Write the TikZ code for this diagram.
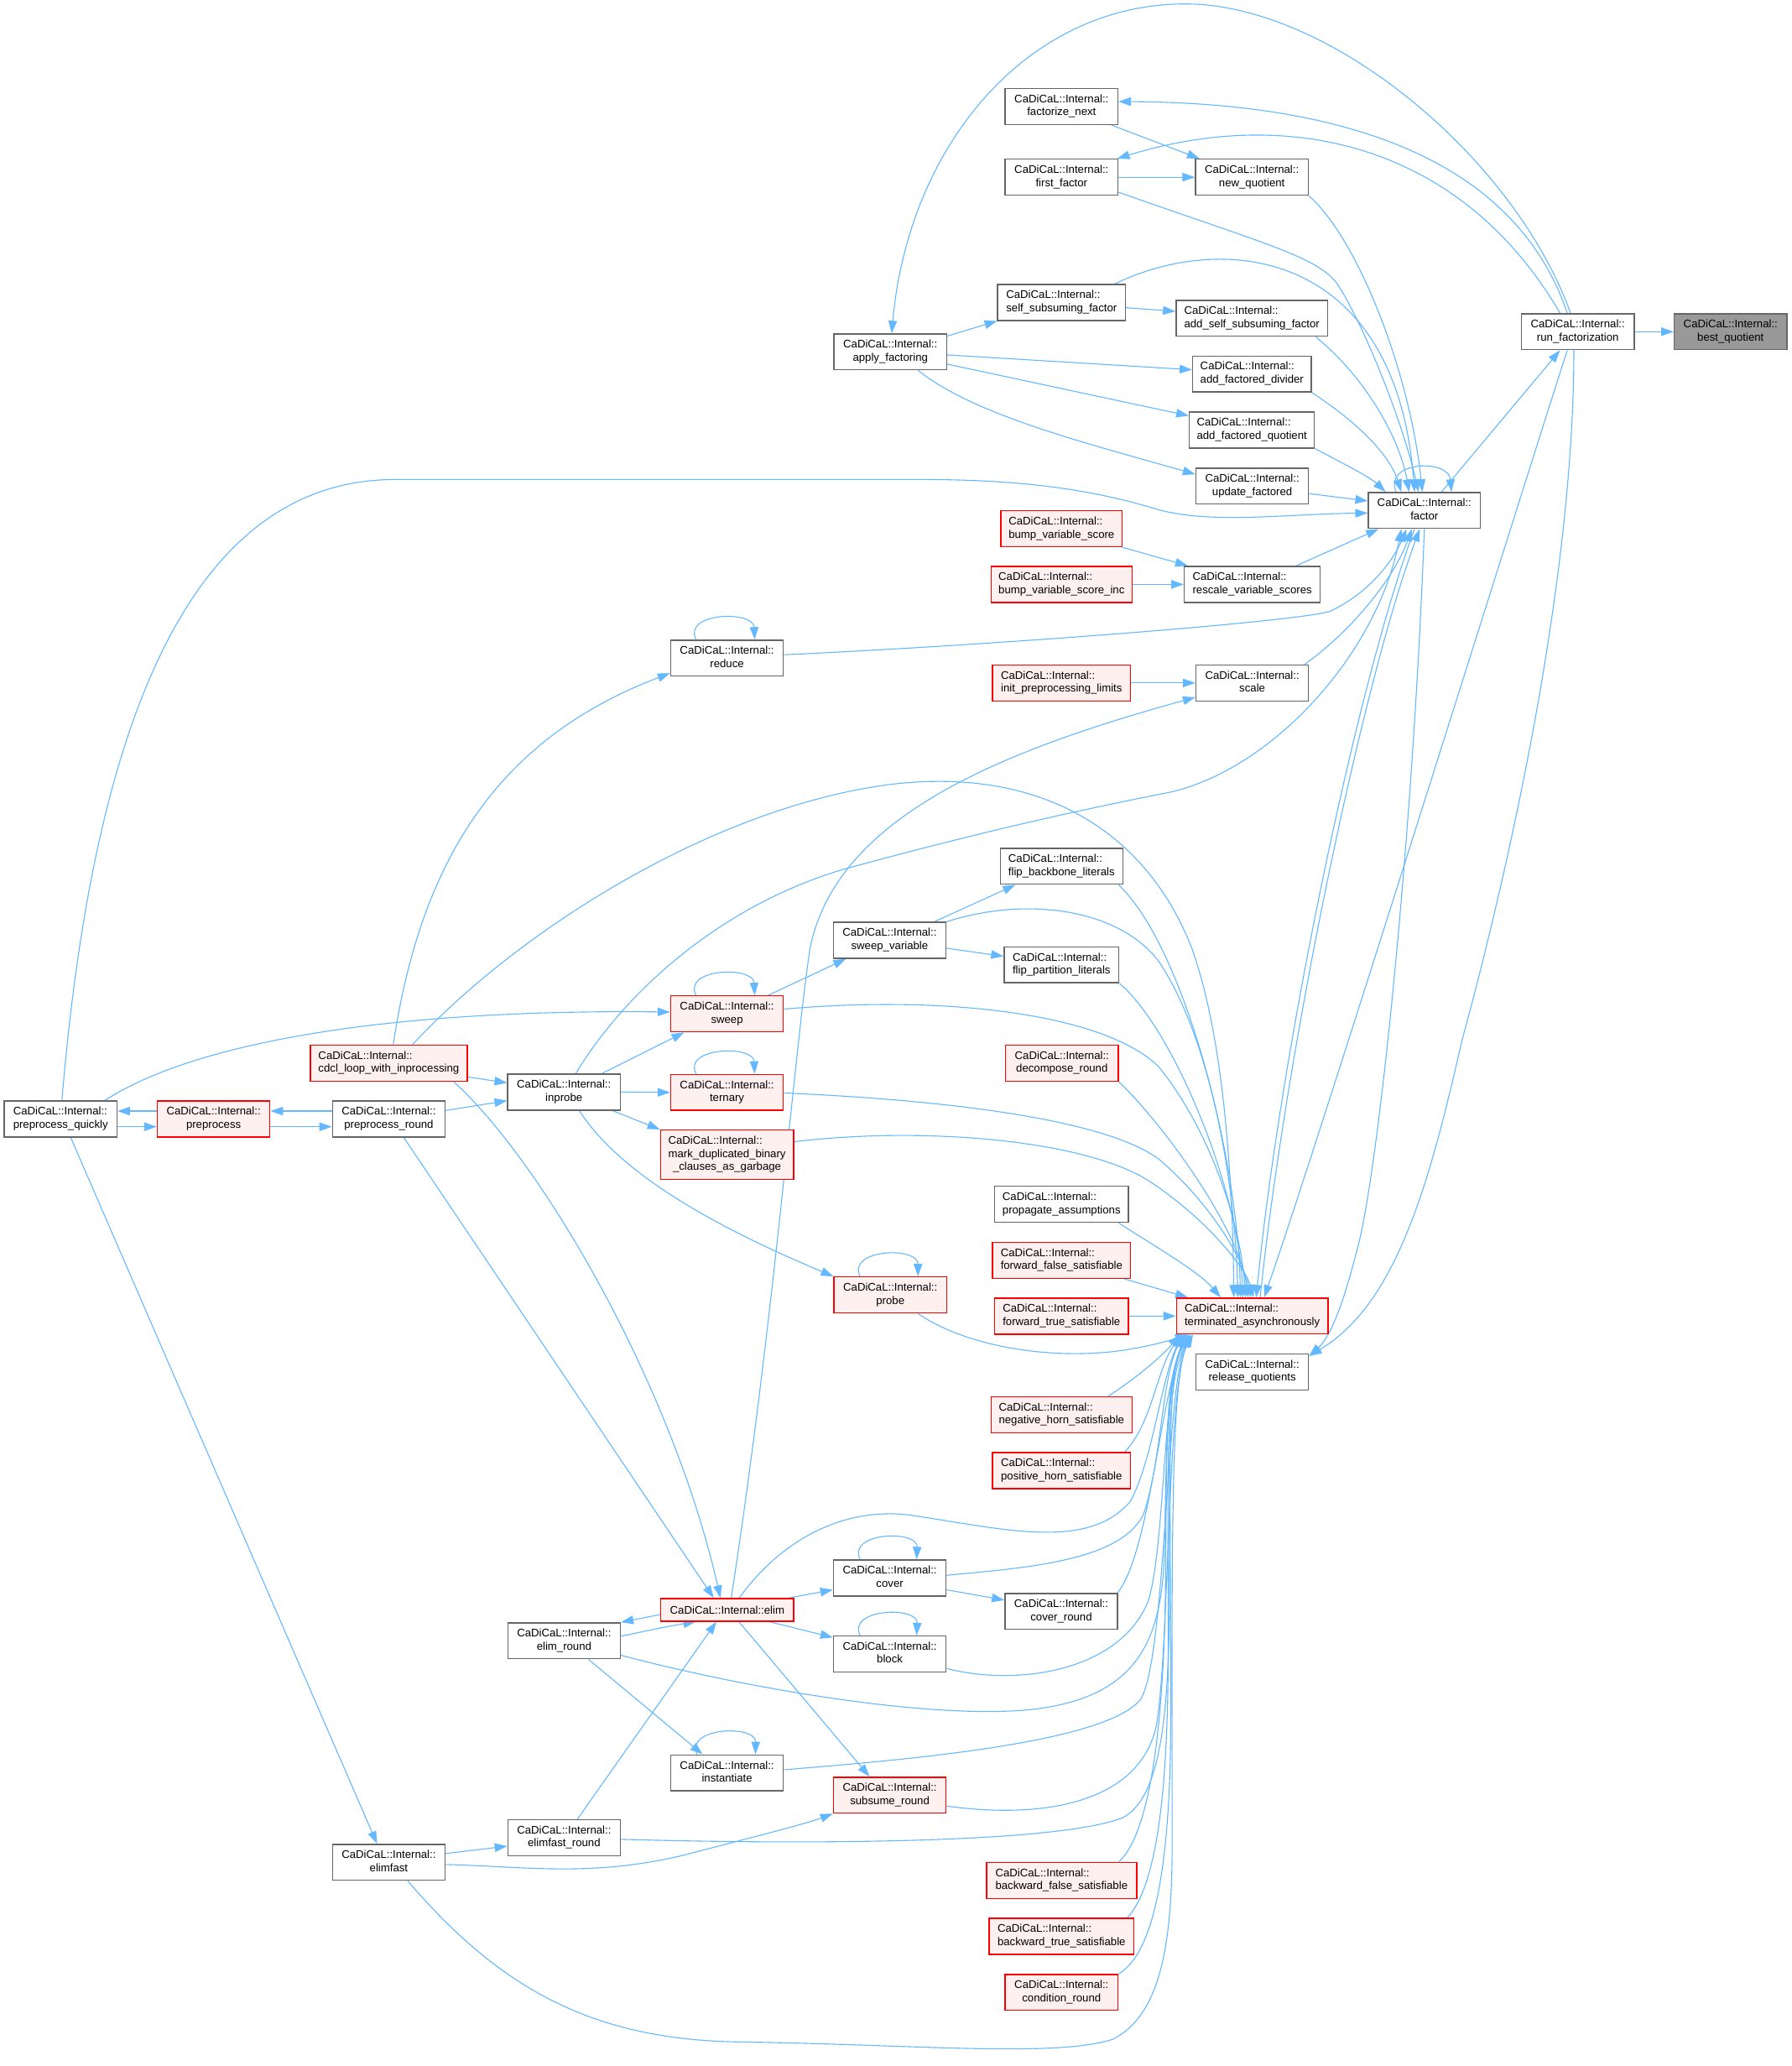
\documentclass[tikz,border=0pt]{standalone}
\usepackage{fontspec}
\setmainfont{Liberation Sans}
\usetikzlibrary{arrows.meta}
\definecolor{edgeblue}{HTML}{63B8FF}
\definecolor{bordergray}{HTML}{666666}
\definecolor{redfill}{HTML}{FFF0F0}
\definecolor{graybg}{HTML}{999999}
\newcommand{\NL}[1]{\begin{tabular}{@{}c@{}}\multicolumn{1}{@{}l@{}}{CaDiCaL::Internal::}\\#1\end{tabular}}
\pgfdeclarelayer{bg}
\pgfsetlayers{bg,main}
\tikzset{
  nbox/.style={draw=bordergray, fill=white, line width=0.9pt, inner sep=0pt, minimum width=85.5pt, minimum height=27.3pt, font=\fontsize{8.4}{10}\selectfont},
  rbox/.style={nbox, draw=red, fill=redfill},
  gbox/.style={nbox, fill=graybg},
  cedge/.style={draw=edgeblue, line width=0.7pt, -{Triangle[length=9.5pt,width=6.5pt]}}
}
\begin{document}
\begin{tikzpicture}[x=1pt,y=-1pt]
\path[use as bounding box] (0,0) rectangle (1360,1568.3);
% nodes
\node[gbox] (bq) at (1314,251.8) {\NL{best\_quotient}};
\node[nbox] (rf) at (1198,251.8) {\NL{run\_factorization}};
\node[nbox] (fn) at (806,80.9) {\NL{factorize\_next}};
\node[nbox] (ff) at (806,134.5) {\NL{first\_factor}};
\node[nbox] (nq) at (950.5,134.5) {\NL{new\_quotient}};
\node[nbox, minimum width=97pt] (ssf) at (806,229.6) {\NL{self\_subsuming\_factor}};
\node[nbox] (af) at (676,267.1) {\NL{apply\_factoring}};
\node[nbox, minimum width=115pt] (assf) at (950.5,241.6) {\NL{add\_self\_subsuming\_factor}};
\node[nbox, minimum width=90pt] (afd) at (950.6,283.9) {\NL{add\_factored\_divider}};
\node[nbox, minimum width=95pt] (afq) at (950.5,326.4) {\NL{add\_factored\_quotient}};
\node[nbox] (uf) at (950.8,369) {\NL{update\_factored}};
\node[nbox, minimum width=85pt] (fa) at (1081.5,387.5) {\NL{factor}};
\node[rbox, minimum width=92pt] (bvs) at (806,401.4) {\NL{bump\_variable\_score}};
\node[rbox, minimum width=107pt] (bvsi) at (806,443.6) {\NL{bump\_variable\_score\_inc}};
\node[nbox, minimum width=103pt] (rvs) at (950.8,443.6) {\NL{rescale\_variable\_scores}};
\node[nbox] (re) at (552,499.6) {\NL{reduce}};
\node[rbox, minimum width=105pt] (ipl) at (806,518.4) {\NL{init\_preprocessing\_limits}};
\node[nbox] (sc) at (950.8,518.4) {\NL{scale}};
\node[nbox, minimum width=93pt] (fbl) at (806,657.6) {\NL{flip\_backbone\_literals}};
\node[nbox] (sv) at (675.5,713.8) {\NL{sweep\_variable}};
\node[nbox, minimum width=87pt] (fpl) at (806,732.4) {\NL{flip\_partition\_literals}};
\node[rbox] (sw) at (552,769.6) {\NL{sweep}};
\node[rbox, minimum width=119pt] (cdcl) at (295.2,807) {\NL{cdcl\_loop\_with\_inprocessing}};
\node[nbox] (ip) at (428.2,829) {\NL{inprobe}};
\node[rbox] (te) at (552,829.2) {\NL{ternary}};
\node[rbox] (dr) at (806.3,807) {\NL{decompose\_round}};
\node[nbox] (pq) at (46,849.4) {\NL{preprocess\_quickly}};
\node[rbox] (pp) at (162.2,849.4) {\NL{preprocess}};
\node[nbox] (pr) at (295.2,849.4) {\NL{preprocess\_round}};
\node[rbox, minimum width=101pt, minimum height=37.6pt] (md) at (552,876.6) {\begin{tabular}{@{}c@{}}\multicolumn{1}{@{}l@{}}{CaDiCaL::Internal::}\\\multicolumn{1}{@{}l@{}}{mark\_duplicated\_binary}\\\_clauses\_as\_garbage\end{tabular}};
\node[nbox, minimum width=101.6pt] (pa) at (806,914.2) {\NL{propagate\_assumptions}};
\node[rbox, minimum width=105pt] (ffs) at (806,956.7) {\NL{forward\_false\_satisfiable}};
\node[rbox] (pb) at (676,983) {\NL{probe}};
\node[rbox, minimum width=101.6pt] (fts) at (806,999.1) {\NL{forward\_true\_satisfiable}};
\node[rbox, minimum width=115pt] (ta) at (950.8,999) {\NL{terminated\_asynchronously}};
\node[nbox] (rq) at (950.8,1041.4) {\NL{release\_quotients}};
\node[rbox, minimum width=107pt] (nhs) at (806,1073.9) {\NL{negative\_horn\_satisfiable}};
\node[rbox, minimum width=105pt] (phs) at (806,1116.3) {\NL{positive\_horn\_satisfiable}};
\node[nbox] (co) at (675.6,1197.8) {\NL{cover}};
\node[nbox] (cr) at (805.8,1223.2) {\NL{cover\_round}};
\node[rbox, minimum width=101pt, minimum height=17.1pt] (el) at (552.2,1222) {CaDiCaL::Internal::elim};
\node[nbox] (er) at (428.3,1245.5) {\NL{elim\_round}};
\node[nbox] (bl) at (675.6,1255.5) {\NL{block}};
\node[nbox] (in) at (552,1345.8) {\NL{instantiate}};
\node[rbox] (sr) at (675.6,1362.7) {\NL{subsume\_round}};
\node[nbox] (efr) at (428.3,1395) {\NL{elimfast\_round}};
\node[nbox] (ef) at (295.2,1413.7) {\NL{elimfast}};
\node[rbox, minimum width=114pt] (bfs) at (806,1427.4) {\NL{backward\_false\_satisfiable}};
\node[rbox, minimum width=110pt] (bts) at (806,1469.8) {\NL{backward\_true\_satisfiable}};
\node[rbox] (cnd) at (806,1512.4) {\NL{condition\_round}};
\begin{pgfonlayer}{bg}
\fill[white] (0,0) rectangle (1360,1568.3);
% top group
\draw[cedge] (rf.east) -- (bq.west);
\draw[cedge] ([xshift=-5.5pt]rf.north) .. controls (1150,120) and (1010,3) .. (900,3) .. controls (780,3) and (690,110) .. ([xshift=1pt]af.north);
\draw[cedge] ([xshift=-8pt]rf.north) .. controls (1150,120) and (1020,78) .. ([yshift=3.8pt]fn.east);
\draw[cedge] ([xshift=-13.5pt]rf.north) .. controls (1110,110) and (980,80) .. ([xshift=-1pt]ff.north east);
\draw[cedge] ([xshift=38pt]fn.south) -- ([xshift=3.5pt]nq.north west);
\draw[cedge] (ff.east) -- (nq.west);
\draw[cedge] ([yshift=-11.4pt]ff.east) .. controls (960,185) and (1000,195) .. (1015,215) .. controls (1035,245) and (1065,320) .. ([xshift=-4.5pt]fa.north);
\draw[cedge] (nq.south east) .. controls (1030,180) and (1070,280) .. ([xshift=-1.5pt]fa.north);
\draw[cedge] ([yshift=12pt]af.east) -- (ssf.south west);
\draw[cedge] ([yshift=-4pt]ssf.east) -- ([yshift=5.3pt]assf.west);
\draw[cedge] ([yshift=-2.3pt]af.east) -- ([yshift=3.2pt]afd.west);
\draw[cedge] ([yshift=-9.3pt]af.east) -- ([yshift=10.8pt]afq.west);
\draw[cedge] ([xshift=21pt]af.south) .. controls (740,315) and (820,335) .. ([yshift=9pt]uf.west);
\draw[cedge] ([xshift=48.5pt]assf.south) .. controls (1035,285) and (1062,330) .. ([xshift=-11.5pt]fa.north);
\draw[cedge] ([xshift=40.4pt]ssf.north) .. controls (930,175) and (1060,190) .. ([xshift=-7.5pt]fa.north);
\draw[cedge] (afd.south east) .. controls (1030,320) and (1055,345) .. ([xshift=-17.5pt]fa.north);
\draw[cedge] (afq.south east) .. controls (1020,352) and (1040,362) .. ([xshift=-29.5pt]fa.north);
\draw[cedge] ([yshift=-5.7pt]uf.east) -- ([yshift=7.2pt]fa.west);
\draw[cedge] ([xshift=1pt]pq.north) .. controls (70,560) and (140,364) .. (300,364) -- (700,364) .. controls (790,364) and (840,375) .. (880,387) .. controls (920,398) and (980,390) .. ([yshift=-2pt]fa.west);
\draw[cedge] ([xshift=33.3pt]rvs.north) -- ([xshift=-34.8pt]fa.south);
\draw[cedge] ([yshift=2.6pt]re.east) .. controls (750,490) and (985,472) .. (1010,464) .. controls (1040,450) and (1058,425) .. ([xshift=-13.5pt]fa.south);
\draw[cedge] ([xshift=39.7pt]sc.north) .. controls (1025,480) and (1058,440) .. ([xshift=-9.5pt]fa.south);
\draw[cedge] ([xshift=9pt]ip.north) .. controls (470,760) and (540,690) .. (640,660) .. controls (750,630) and (820,615) .. (880,603) .. controls (960,590) and (1045,500) .. ([xshift=-17.5pt]fa.south);
\draw[cedge] ([xshift=6pt]ta.north) .. controls (976,800) and (1034,520) .. ([xshift=-3.5pt]fa.south);
\draw[cedge] ([xshift=-7.5pt]fa.south) .. controls (1030,520) and (972,800) .. ([xshift=3pt]ta.north);
\draw[cedge] (fa.south) .. controls (1072,650) and (1045,900) .. (1030,950) .. controls (1020,990) and (1010,1015) .. ([yshift=-2pt]rq.north east);
\draw[cedge] ([xshift=13pt]fa.north) -- ([xshift=-13.5pt]rf.south);
\draw[cedge] ([xshift=-21.5pt]fa.north) .. controls (1050,350) and (1100,348) .. ([xshift=20.5pt]fa.north);
\draw[cedge] ([xshift=-8pt]rf.south) .. controls (1150,390) and (1000,870) .. ([xshift=9pt]ta.north);
\draw[cedge] ([xshift=-3pt]rf.south) .. controls (1195,450) and (1140,680) .. (1110,790) .. controls (1085,900) and (1060,990) .. ([yshift=-2pt]rq.north east);
\draw[cedge] (bvs.south east) -- ([xshift=3pt]rvs.north west);
\draw[cedge] (bvsi.east) -- (rvs.west);
\draw[cedge] (ipl.east) -- (sc.west);
% preprocess group
\draw[cedge] ([yshift=-5.9pt]pq.east) -- ([yshift=-5.9pt]pp.west);
\draw[cedge] ([yshift=6pt]pp.west) -- ([yshift=6pt]pq.east);
\draw[cedge] ([yshift=-5.9pt]pp.east) -- ([yshift=-5.9pt]pr.west);
\draw[cedge] ([yshift=6pt]pr.west) -- ([yshift=6pt]pp.east);
\draw[cedge] ([xshift=33.6pt]pq.north) .. controls (150,790) and (300,766) .. ([yshift=1.4pt]sw.west);
\draw[cedge] ([xshift=7.7pt]pq.south) -- ([xshift=-8.9pt]ef.north);
\draw[cedge] ([xshift=3.4pt]cdcl.north) .. controls (320,650) and (380,560) .. ([yshift=-11.4pt]re.west);
\draw[cedge] ([xshift=18pt]cdcl.north) .. controls (400,700) and (550,610) .. (680,595) .. controls (790,583) and (870,630) .. (905,720) .. controls (930,790) and (936,900) .. ([xshift=-14pt]ta.north);
\draw[cedge] ([yshift=-10.5pt]cdcl.east) -- ([yshift=7pt]ip.west);
\draw[cedge] ([yshift=6.4pt]pr.east) -- ([yshift=-6.5pt]ip.west);
\draw[cedge] ([xshift=49.2pt]cdcl.south) .. controls (410,880) and (510,1050) .. ([xshift=-5.2pt]el.north);
\draw[cedge] ([xshift=11.4pt]pr.south) -- ([xshift=-10.3pt]el.north);
\draw[cedge] ([xshift=3pt]el.north) .. controls (588,1000) and (603,800) .. (615,720) .. controls (635,620) and (760,570) .. ([yshift=-10.9pt]sc.west);
\draw[cedge] ([xshift=28.8pt]ip.north) -- ([xshift=-32.5pt]sw.south);
\draw[cedge] (ip.east) -- (te.west);
\draw[cedge] ([xshift=36.8pt]ip.south) -- (md.north west);
\draw[cedge] ([xshift=11.7pt]ip.south) .. controls (470,890) and (540,930) .. (pb.north west);
% loops
\draw[cedge] ([xshift=-23.5pt]sw.north) .. controls (518,735) and (572,733) .. ([xshift=21pt]sw.north);
\draw[cedge] ([xshift=-23.5pt]te.north) .. controls (518,795) and (572,793) .. ([xshift=21pt]te.north);
\draw[cedge] ([xshift=-23.5pt]re.north) .. controls (518,465) and (572,463) .. ([xshift=21pt]re.north);
\draw[cedge] ([xshift=-23pt]pb.north) .. controls (643,948) and (697,946) .. ([xshift=21pt]pb.north);
\draw[cedge] ([xshift=-22.6pt]co.north) .. controls (643,1163) and (697,1161) .. ([xshift=20.4pt]co.north);
\draw[cedge] ([xshift=-22.6pt]bl.north) .. controls (643,1221) and (697,1219) .. ([xshift=20.4pt]bl.north);
\draw[cedge] ([xshift=-22.8pt]in.north) .. controls (520,1311) and (574,1309) .. ([xshift=21.6pt]in.north);
% sweep cluster to terminated
\draw[cedge] ([xshift=31.3pt]sw.north) -- ([xshift=-33.2pt]sv.south);
\draw[cedge] ([xshift=33.8pt]sv.north) -- ([xshift=-35pt]fbl.south);
\draw[cedge] ([yshift=-6pt]sv.east) -- ([yshift=6.5pt]fpl.west);
\draw[cedge] (sv.north east) .. controls (780,680) and (850,690) .. (880,730) .. controls (920,790) and (938,900) .. ([xshift=-11pt]ta.north);
\draw[cedge] ([xshift=43.4pt]fbl.south) .. controls (900,720) and (940,880) .. ([xshift=-9pt]ta.north);
\draw[cedge] (fpl.south east) .. controls (890,780) and (940,900) .. ([xshift=-7pt]ta.north);
\draw[cedge] ([yshift=3.6pt]sw.east) .. controls (720,755) and (840,770) .. (880,810) .. controls (920,860) and (942,930) .. ([xshift=-5pt]ta.north);
\draw[cedge] (dr.south east) .. controls (880,850) and (940,930) .. ([xshift=-3pt]ta.north);
\draw[cedge] ([yshift=-0.5pt]te.east) .. controls (720,835) and (840,850) .. (880,880) .. controls (915,910) and (942,950) .. ([xshift=-1pt]ta.north);
\draw[cedge] ([yshift=9.9pt]md.east) .. controls (700,855) and (820,865) .. (870,895) .. controls (910,920) and (945,960) .. ([xshift=1pt]ta.north);
\draw[cedge] ([xshift=43.4pt]pa.south) .. controls (875,945) and (910,965) .. ([xshift=-24pt]ta.north);
\draw[cedge] ([xshift=47.6pt]ffs.south) -- ([xshift=-48.8pt]ta.north);
\draw[cedge] (fts.east) -- (ta.west);
\draw[cedge] ([xshift=21pt]pb.south) .. controls (730,1020) and (790,1032) .. (845,1026) .. controls (870,1023) and (890,1017) .. ([xshift=9pt]ta.south west);
% lower group to terminated
\draw[cedge] ([xshift=35.5pt]nhs.north) .. controls (860,1048) and (882,1030) .. ([xshift=3pt]ta.south west);
\draw[cedge] ([xshift=48pt]phs.north) .. controls (875,1080) and (878,1040) .. ([xshift=4pt]ta.south west);
\draw[cedge] ([xshift=9pt]el.north) .. controls (600,1160) and (650,1145) .. (690,1150) .. controls (760,1160) and (825,1178) .. (858,1140) .. controls (875,1110) and (882,1045) .. ([xshift=5pt]ta.south west);
\draw[cedge] ([yshift=2pt]co.east) .. controls (780,1190) and (850,1185) .. (868,1150) .. controls (882,1110) and (882,1045) .. ([xshift=6pt]ta.south west);
\draw[cedge] ([xshift=42.7pt]cr.north) .. controls (872,1180) and (880,1070) .. ([xshift=7pt]ta.south west);
\draw[cedge] ([yshift=-11pt]bl.east) .. controls (770,1280) and (850,1270) .. (872,1215) .. controls (885,1170) and (882,1060) .. ([xshift=8pt]ta.south west);
\draw[cedge] ([yshift=-11pt]er.east) .. controls (560,1280) and (700,1305) .. (780,1298) .. controls (860,1290) and (882,1250) .. (884,1180) .. controls (886,1100) and (885,1045) .. ([xshift=9pt]ta.south west);
\draw[cedge] ([yshift=2.4pt]in.east) .. controls (700,1335) and (840,1322) .. (866,1290) .. controls (885,1260) and (885,1060) .. ([xshift=10pt]ta.south west);
\draw[cedge] ([yshift=-8.3pt]sr.east) .. controls (800,1382) and (866,1365) .. (878,1310) .. controls (888,1250) and (886,1060) .. ([xshift=11pt]ta.south west);
\draw[cedge] ([yshift=-1.2pt]efr.east) .. controls (600,1400) and (800,1400) .. (852,1380) .. controls (882,1365) and (888,1300) .. (888,1200) .. controls (888,1100) and (886,1045) .. ([xshift=12pt]ta.south west);
\draw[cedge] ([xshift=14.4pt]ef.south) .. controls (380,1510) and (450,1548) .. (560,1550) .. controls (700,1552) and (800,1562) .. (845,1548) .. controls (880,1530) and (890,1480) .. (890,1400) .. controls (890,1200) and (888,1045) .. ([xshift=13pt]ta.south west);
\draw[cedge] ([xshift=43.5pt]bfs.north) .. controls (875,1390) and (884,1300) .. (885,1200) .. controls (886,1100) and (884,1045) .. ([xshift=11pt]ta.south west);
\draw[cedge] ([xshift=50pt]bts.north) .. controls (880,1430) and (887,1350) .. (887,1250) .. controls (887,1120) and (884,1045) .. ([xshift=10pt]ta.south west);
\draw[cedge] ([xshift=43.5pt]cnd.north) .. controls (880,1480) and (889,1400) .. (889,1300) .. controls (889,1130) and (885,1045) .. ([xshift=9pt]ta.south west);
% elim group
\draw[cedge] ([yshift=-3.6pt]el.west) -- (er.north east);
\draw[cedge] ([yshift=3.4pt]er.east) .. controls (495,1237) and (510,1234) .. ([xshift=-23.8pt]el.south);
\draw[cedge] ([xshift=46.7pt]el.north) -- ([yshift=-9pt]co.west);
\draw[cedge] ([yshift=-9pt]co.east) -- ([yshift=8.6pt]cr.west);
\draw[cedge] ([xshift=31.9pt]el.south) -- ([yshift=12.5pt]bl.west);
\draw[cedge] ([xshift=8.8pt]el.south) -- ([xshift=-15.4pt]sr.north);
\draw[cedge] ([xshift=18.5pt]er.south) -- ([xshift=-18.5pt]in.north);
\draw[cedge] ([xshift=10.1pt]efr.north) -- ([xshift=-8.2pt]el.south);
\draw[cedge] ([yshift=6.7pt]ef.east) -- ([yshift=-6.4pt]efr.west);
\draw[cedge] ([yshift=-1.6pt]ef.east) .. controls (400,1417) and (450,1425) .. (520,1408) .. controls (570,1395) and (610,1385) .. (sr.south west);
\end{pgfonlayer}
\end{tikzpicture}
\end{document}
